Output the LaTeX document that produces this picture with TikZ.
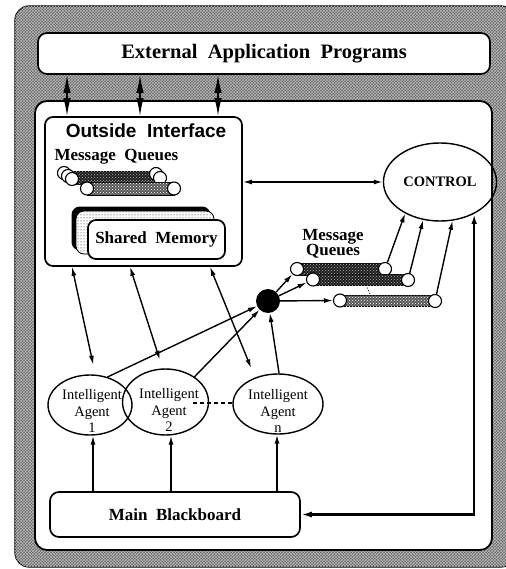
\documentclass[tikz,border=0pt]{standalone}
\usepackage{fontspec}
\setmainfont{Liberation Serif}
\newfontfamily\oifont{Liberation Sans}
\usetikzlibrary{arrows.meta,patterns,calc,shapes.geometric}

\tikzset{
  conn/.style={line width=1.4pt},
  arr/.style={conn,-{Latex[length=9pt,width=5pt]}},
  biarr/.style={conn,{Latex[length=9pt,width=5pt]}-{Latex[length=9pt,width=5pt]}},
  spindle/.style={line width=1.6pt,{Latex[length=18pt,width=7.5pt]}-{Latex[length=18pt,width=7.5pt]}},
  rbox/.style={draw,line width=1.7pt,fill=white,rounded corners=9pt,inner sep=0pt},
  agent/.style={ellipse,draw,line width=1.4pt,inner sep=0pt},
  agtext/.style={align=center,font=\fontsize{14.5}{16.5}\selectfont,inner sep=0pt},
  bold/.style={font=\bfseries\fontsize{#1}{#1}\selectfont},
  qend/.style={circle,draw,fill=white,line width=1.1pt,minimum size=13pt,inner sep=0pt},
  qbar/.style={draw,line width=0.9pt,fill=black!88,postaction={pattern=crosshatch dots,pattern color=gray!60}},
  qbarlight/.style={draw,line width=0.9pt,fill=black!65,postaction={pattern=crosshatch dots,pattern color=white}},
}

\begin{document}
\begin{tikzpicture}[x=1pt,y=-1pt]
\useasboundingbox (0,0) rectangle (505,569);

% shaded frame and white working area
\draw[line width=1.2pt,fill=black!58,rounded corners=14pt,
      postaction={pattern=crosshatch,pattern color=black!28}] (15,6) rectangle (515,567);
\draw[line width=1.8pt,fill=white,rounded corners=12pt] (35,101) rectangle (492,550);

% external programs
\node[rbox,minimum width=452pt,minimum height=41pt,bold=20.5] (ext) at (264,53.5)
  {External\ \ Application\ \ Programs};

% outside interface
\node[rbox,rounded corners=8pt,minimum width=197pt,minimum height=149pt] (oi) at (143.5,191.5) {};
\node[font=\oifont\bfseries\fontsize{19}{19}\selectfont] (oit) at (146,131) {Outside\ \ Interface};
\node[bold=17,anchor=west] (mqa) at (51,157) {Message\ \ Queues};

% interface message queues (rear, then front)
\draw[qbar] (72,171.5) rectangle (160,184.5);
\node[qend] (qa0) at (64,173) {};
\node[qend] (qa1) at (68,176) {};
\node[qend] (qal) at (72,179) {};
\node[qend] (qar0) at (156,174) {};
\node[qend] (qar) at (160,178) {};
\draw[qbarlight] (87,182) rectangle (174,195);
\node[qend] (qbl) at (87,188.5) {};
\node[qend] (qbr) at (174,188.5) {};

% shared memory stack
\draw[line width=1pt,fill=black,rounded corners=8pt] (72,207) rectangle (210,250);
\draw[line width=0.8pt,fill=white,rounded corners=8pt,postaction={pattern=dots}] (76,211) rectangle (214,254);
\node[rbox,rounded corners=8pt,minimum width=137pt,minimum height=39pt,bold=17] (shm) at (156.5,239.5) {Shared\ \ Memory};

% control
\node[ellipse,draw,line width=1.4pt,minimum width=100pt,minimum height=78pt,bold=14.5] (ctrl) at (440,182) {CONTROL};

% agent message queues
\node[align=center,font=\bfseries\fontsize{17}{15.5}\selectfont] (mqb) at (333,244) {Message\\Queues};
\draw[qbar] (297,263.5) rectangle (385,275);
\node[qend] (q1l) at (297,269) {};
\node[qend] (q1r) at (385,269) {};
\draw[qbar] (313,274) rectangle (408,285.5);
\node[qend] (q2l) at (313,279.5) {};
\node[qend] (q2r) at (408,280) {};
\draw[qbarlight] (340,295) rectangle (435,306.5);
\node[qend] (q3l) at (340,300.5) {};
\node[qend] (q3r) at (435,301) {};
\draw[dotted,line width=0.9pt] (366,285) -- (370,294);

% junction
\node[circle,fill=black,minimum size=24pt,inner sep=0pt] (hub) at (268,301) {};

% agents
\node[agent,minimum width=84pt,minimum height=60pt] (ag1) at (90,405) {};
\node[agent,minimum width=86pt,minimum height=66pt] (ag2) at (165.5,402) {};
\node[agent,minimum width=90pt,minimum height=60pt] (agn) at (278,404) {};
\node[agtext] (ag1t) at (92,411) {Intelligent\\Agent\\1};
\node[agtext] (ag2t) at (169,410) {Intelligent\\Agent\\2};
\node[agtext] (agnt) at (278,411) {Intelligent\\Agent\\n};
\coordinate (dsh) at (193,403);
\draw[line width=2pt,dash pattern=on 4pt off 3pt] (dsh) -- (agn.west |- dsh);

% blackboard
\node[rbox,rounded corners=9pt,minimum width=250pt,minimum height=45pt,bold=17] (bb) at (175,514.5) {Main\ \ Blackboard};

% external <-> interface
\foreach \x [count=\i] in {67,140,218} {
  \coordinate (s\i) at (\x,0);
  \draw[spindle] (ext.south -| s\i) -- (oi.north -| s\i);
}

% interface <-> agents
\coordinate (o1) at (72,0);
\coordinate (o2) at (130,0);
\coordinate (o3) at (210,0);
\draw[biarr,shorten >=10pt] (oi.south -| o1) -- (ag1.80);
\draw[biarr,shorten >=9pt] (oi.south -| o2) -- (ag2.95);
\draw[biarr,shorten >=10pt] (oi.south -| o3) -- (agn.131);

% interface <-> control
\draw[biarr] (oi.east |- ctrl.west) -- (ctrl.west);

% agents -> junction -> queues -> control
\draw[arr] (ag1.58) -- (hub);
\draw[arr] (ag2.41) -- (hub);
\draw[arr] (agn.88) -- (hub);
\draw[arr] (hub) -- (q1l);
\draw[arr] (hub) -- (q2l);
\draw[arr] (hub) -- (q3l);
\draw[arr] (q1r) -- (ctrl.222);
\draw[arr] (q2r) -- (ctrl.246);
\draw[arr] (q3r) -- (ctrl.288);

% blackboard -> agents
\coordinate (b1) at (93,0);
\coordinate (b2) at (171,0);
\coordinate (b3) at (277,0);
\draw[arr] (bb.north -| b1) -- (ag1.south -| b1);
\draw[arr] (bb.north -| b2) -- (ag2.south -| b2);
\draw[arr] (bb.north -| b3) -- (agn.south -| b3);

% control <-> blackboard
\draw[line width=2.2pt,{Latex[length=11pt,width=6pt]}-{Latex[length=10pt,width=5.5pt]}]
  (bb.east) -- (bb.east -| ctrl.-43) -- (ctrl.-43);
\end{tikzpicture}
\end{document}
